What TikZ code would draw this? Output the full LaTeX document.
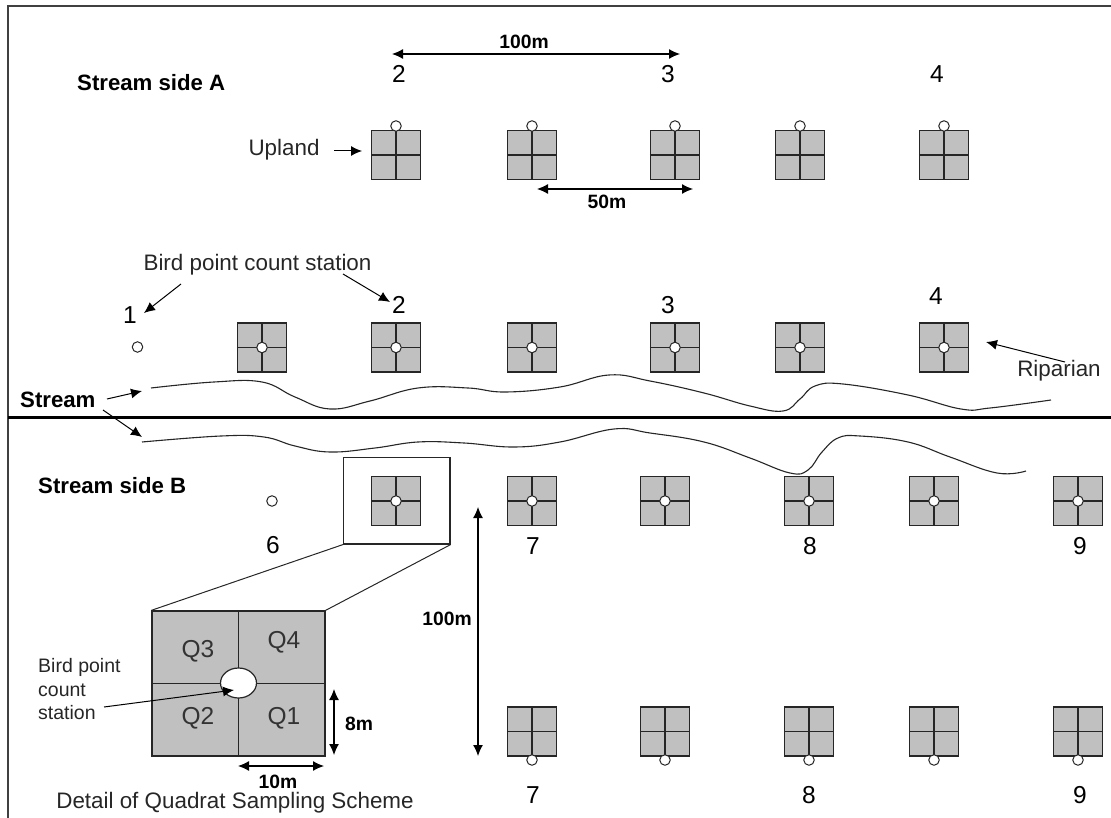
\documentclass[tikz,border=0pt]{standalone}
\usepackage{fontspec}
\setmainfont{Liberation Sans}
\usetikzlibrary{shapes.geometric, arrows.meta}
\definecolor{quadgray}{HTML}{C0C0C0}
\definecolor{framegray}{HTML}{404040}
\tikzstyle{quad}=[shape=rectangle, minimum size=49pt, inner sep=0, draw=black!85, line width=1.3pt, fill=quadgray]
\tikzstyle{stn}=[shape=circle, minimum size=10.5pt, inner sep=0, draw=black!85, line width=1pt, fill=white]
\tikzstyle{num}=[inner sep=0, font=\fontsize{24.5}{24}\selectfont]
\tikzstyle{lbl}=[inner sep=0, text=black!85, font=\fontsize{22.4}{24}\selectfont]
\tikzstyle{small}=[inner sep=0, text=black!85, font=\fontsize{19.5}{23.5}\selectfont, align=left]
\tikzstyle{bld}=[inner sep=0, font=\fontsize{22.2}{24}\selectfont\bfseries]
\tikzstyle{dim}=[inner sep=0, font=\fontsize{19.3}{22}\selectfont\bfseries]
\tikzstyle{qlbl}=[inner sep=0, text=black!80, font=\fontsize{24.5}{24}\selectfont]
\tikzstyle{arr}=[-{Latex[length=11pt,width=10pt]}, line width=1pt]
\tikzstyle{darr}=[{Latex[length=11pt,width=10pt]}-{Latex[length=11pt,width=10pt]}, line width=1.2pt]
\tikzstyle{creek}=[line width=1.1pt, black!85]
\tikzstyle{cross}=[line width=1.3pt, black!85]
\begin{document}
\begin{tikzpicture}[x=1pt, y=-1pt]
\useasboundingbox (0,0) rectangle (1111,818);
\draw[line width=1.8pt, framegray] (8,818) -- (8,6) -- (1111,6);
\draw[line width=2.2pt] (8,417.5) -- (1111,417.5);
% upland row
\foreach \x [count=\i] in {396,532,675,800,944}
{
\node[quad] (U\i) at (\x,155) {};
\draw[cross] (U\i.north) -- (U\i.south);
\draw[cross] (U\i.west) -- (U\i.east);
\node[stn] (US\i) at (\x,126) {};
}
% riparian row
\foreach \x [count=\i] in {262,396,532,675,800,944}
{
\node[quad] (R\i) at (\x,347.5) {};
\draw[cross] (R\i.north) -- (R\i.south);
\draw[cross] (R\i.west) -- (R\i.east);
\node[stn] (RS\i) at (\x,347.5) {};
}
% side B, near the stream
\foreach \x [count=\i] in {396,532,665,809,934,1078}
{
\node[quad] (B\i) at (\x,501) {};
\draw[cross] (B\i.north) -- (B\i.south);
\draw[cross] (B\i.west) -- (B\i.east);
\node[stn] (BS\i) at (\x,501) {};
}
% side B, far row
\foreach \x [count=\i] in {532,665,809,934,1078}
{
\node[quad] (C\i) at (\x,731.5) {};
\draw[cross] (C\i.north) -- (C\i.south);
\draw[cross] (C\i.west) -- (C\i.east);
\node[stn] (CS\i) at (\x,760) {};
}
\node[stn] (S1) at (137.5,347) {};
\node[stn] (S6) at (272,501) {};
% streams
\draw[creek] plot[smooth, tension=0.7] coordinates {(151,388) (214,382) (262,382) (295,397) (330,409) (370,401) (418,388) (468,388) (505,392) (560,387) (609,375) (650,381) (704,393) (750,406) (783,411) (800,399) (815,386) (843,384) (908,395) (961,409) (990,408) (1051,400)};
\draw[creek] plot[smooth, tension=0.7] coordinates {(142,442) (221,436) (264,437) (295,446) (330,452) (375,448) (418,442) (464,443) (514,447) (560,442) (614,429) (650,433) (704,442) (750,458) (790,473) (808,470) (822,452) (838,438) (860,436) (908,442) (950,457) (997,473) (1026,471)};
% detail
\node[draw=black!85, line width=1.2pt, minimum width=106.5pt, minimum height=86.5pt, inner sep=0] (zoombox) at (396.75,500.75) {};
\node[quad, minimum width=173pt, minimum height=145pt] (D) at (238.5,683.5) {};
\draw[cross] (D.north) -- (D.south);
\draw[cross] (D.west) -- (D.east);
\node[shape=ellipse, draw=black!85, line width=1.2pt, fill=white, minimum width=36pt, minimum height=30pt, inner sep=0] (Dstn) at (238.5,683) {};
\draw[line width=1pt, black!85] (zoombox.south west) -- (D.north west);
\draw[line width=1pt, black!85] (zoombox.south east) -- (D.north east);
\node[qlbl] (Q3) at (198,651) {Q3};
\node[qlbl] (Q4) at (284,642) {Q4};
\node[qlbl] (Q2) at (198,718) {Q2};
\node[qlbl] (Q1) at (284,718) {Q1};
% labels
\node[bld, anchor=west] (sideA) at (77,83) {Stream side A};
\node[bld, anchor=west] (sideB) at (38,486) {Stream side B};
\node[bld, anchor=west] (streamlbl) at (20,400) {Stream};
\node[lbl] (upland) at (284,149.5) {Upland};
\node[lbl] (bird) at (257.5,265) {Bird point count station};
\node[lbl] (riparian) at (1059,371) {Riparian};
\node[small, anchor=west] (birdB) at (38,689.5) {Bird point\\count\\station};
\node[lbl] (detail) at (235,803) {Detail of Quadrat Sampling Scheme};
\node[dim] (d100a) at (524,42) {100m};
\node[dim] (d50) at (607,202) {50m};
\node[dim] (d100b) at (447,619) {100m};
\node[dim] (d8) at (359,724) {8m};
\node[dim] (d10) at (278,782) {10m};
\foreach \x/\y/\t/\n in {399/74/2/a2,668/74/3/a3,937/74/4/a4,130/315/1/b1,399/305/2/b2,668/305/3/b3,936/296/4/b4,273/545/6/c6,533/546/7/c7,810/546/8/c8,1080/546/9/c9,533/795/7/d7,809/795/8/d8,1080/795/9/d9}
{
\node[num] (n\n) at (\x,\y) {\t};
}
% arrows
\coordinate (a100l) at (392,54);
\coordinate (a100r) at (680,54);
\coordinate (a50l) at (537,189);
\coordinate (a50r) at (693,189);
\coordinate (av100t) at (478,507);
\coordinate (av100b) at (478,756);
\coordinate (a8t) at (334,689);
\coordinate (a8b) at (334,755);
\coordinate (a10l) at (238,766);
\coordinate (a10r) at (324,766);
\coordinate (upfrom) at (334,151);
\coordinate (upto) at (362,151);
\coordinate (bfrom1) at (181,284);
\coordinate (bto1) at (144,313);
\coordinate (bfrom2) at (343,274);
\coordinate (bto2) at (390,302);
\coordinate (rfrom) at (1065,362);
\coordinate (rto) at (986,342);
\coordinate (sfrom1) at (107,399);
\coordinate (sto1) at (142,391);
\coordinate (sfrom2) at (103,410);
\coordinate (sto2) at (142,437);
\coordinate (dfrom) at (104,707);
\coordinate (dto) at (234,690);
\draw[darr] (a100l) -- (a100r);
\draw[darr] (a50l) -- (a50r);
\draw[darr] (av100t) -- (av100b);
\draw[darr] (a8t) -- (a8b);
\draw[darr] (a10l) -- (a10r);
\draw[arr] (upfrom) -- (upto);
\draw[arr] (bfrom1) -- (bto1);
\draw[arr] (bfrom2) -- (bto2);
\draw[arr] (rfrom) -- (rto);
\draw[arr] (sfrom1) -- (sto1);
\draw[arr] (sfrom2) -- (sto2);
\draw[arr] (dfrom) -- (dto);
\end{tikzpicture}
\end{document}
